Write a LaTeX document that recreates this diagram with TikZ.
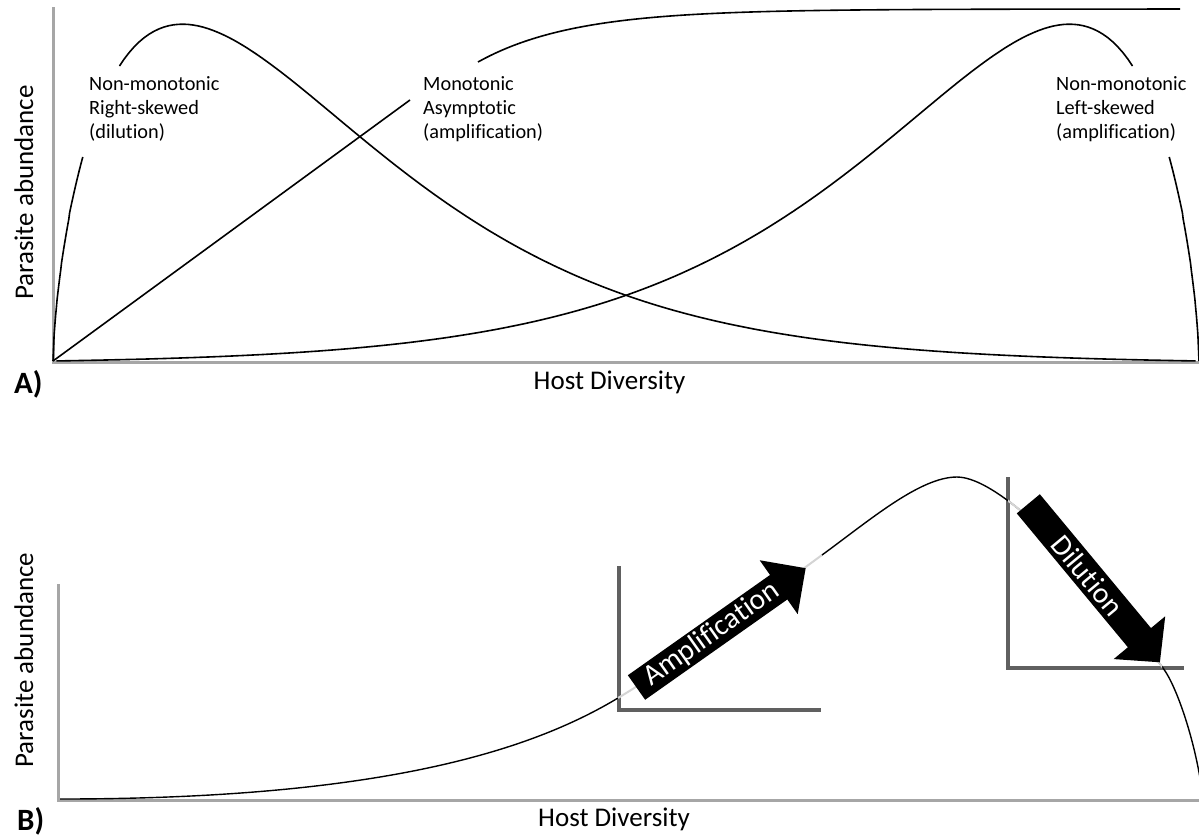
\documentclass[tikz,border=0pt]{standalone}
\usepackage{fontspec}
\setmainfont{Carlito}[Ligatures=NoCommon]
\definecolor{axgray}{HTML}{A6A6A6}
\definecolor{insetgray}{HTML}{606060}
\definecolor{ghostgray}{HTML}{D4D4D4}
\begin{document}
\begin{tikzpicture}[x=1pt,y=-1pt,
  axis/.style={draw=axgray, line width=3pt},
  inset/.style={draw=insetgray, line width=4pt},
  curve/.style={draw=black, line width=1.6pt, line join=round},
  curveb/.style={draw=black, line width=1.4pt, line join=round},
  ghost/.style={draw=ghostgray, line width=2pt},
  lab/.style={font=\fontsize{20.3}{24}\selectfont, align=left, inner sep=0pt},
  axlab/.style={font=\fontsize{27}{32}\selectfont, inner sep=0pt},
  panel/.style={font=\fontsize{31}{36}\selectfont\bfseries, inner sep=0pt},
  arrtxt/.style={font=\fontsize{29.5}{34}\selectfont, text=white, inner sep=0pt},
  declare function={rsk(\t)=exp(0.66*(ln(\t/0.113)-(exp(1.15*ln(\t/0.113))-1)/1.15))-0.0065*\t;}
]
\useasboundingbox (0,0) rectangle (1199,839);

% ---------------- Panel A ----------------
\draw[axis] (53,7) -- (53,362) -- (1199,362);
\coordinate (oA) at (53,361);
\coordinate (eA) at (1199,361);

% right-skewed (dilution)
\draw[curve] (oA) -- plot[domain=0.001:0.026, samples=40] ({53+1146*\x},{361-337*rsk(\x)});
\draw[curve] plot[domain=0.058:1, samples=220] ({53+1146*\x},{361-337*rsk(\x)});
% left-skewed (amplification)
\draw[curve] plot[domain=0.058:1, samples=220] ({1199-1146*\x},{361-337*rsk(\x)});
\draw[curve] plot[domain=0.026:0.001, samples=40] ({1199-1146*\x},{361-337*rsk(\x)}) -- (eA);
% monotonic asymptotic
\coordinate (mA) at (410,100);
\draw[curve] (oA) -- (mA);
\draw[curve] plot[domain=478:1180, samples=120] (\x,{9+53*exp(-(\x-478)/95)});

\node[lab, anchor=north west] (lrs) at (89,76) {Non-monotonic\\Right-skewed\\(dilution)};
\node[lab, anchor=north west] (lma) at (423,76) {Monotonic\\Asymptotic\\(amplification)};
\node[lab, anchor=north west] (lls) at (1056,76) {Non-monotonic\\Left-skewed\\(amplification)};

\node[axlab, rotate=90, anchor=base] (yA) at (33,192.5) {Parasite abundance};
\node[axlab, anchor=base] (xA) at (609.5,389) {Host Diversity};
\node[panel, anchor=base west] (pA) at (14,393) {A)};

% ---------------- Panel B ----------------
\draw[axis] (58,584) -- (58,800) -- (1199,800);
\draw[inset] (618.5,566) -- (618.5,710) -- (821,710);
\draw[inset] (1008,477) -- (1008,668) -- (1184,668);

\coordinate (b0) at (60,799);
\coordinate (b1) at (618,698);
\coordinate (b2) at (822,555);
\coordinate (bp) at (957,477);
\coordinate (b3) at (1163,668);
\coordinate (b4) at (1203,800);

\draw[curveb] (b0) .. controls (380,799) and (530,751) .. (b1);
\draw[ghost] (b1) .. controls (678,662) and (762,599) .. (b2);
\draw[curveb] (b2) .. controls (870,520) and (920,477) .. (bp);
\draw[curveb] (bp) .. controls (1000,477) and (1090,570) .. (b3);
\begin{scope}
\clip (1008,400) rectangle (1162,760);
\draw[ghost] (bp) .. controls (1000,477) and (1090,570) .. (b3);
\end{scope}
\draw[curveb] (b3) .. controls (1178,688) and (1198,750) .. (b4);

% Amplification arrow
\begin{scope}[shift={(636.5,687.5)}, rotate=35.2]
\fill[black] (0,-15) -- (174,-15) -- (174,-33) -- (207,0) -- (174,33) -- (174,15) -- (0,15) -- cycle;
\node[arrtxt, transform shape] (amp) at (92,0) {Amplification};
\end{scope}
% Dilution arrow
\begin{scope}[shift={(1028.3,503.8)}, rotate=-50.3]
\fill[black] (0,-15) -- (174,-15) -- (174,-33.5) -- (206,0) -- (174,33.5) -- (174,15) -- (0,15) -- cycle;
\node[arrtxt, transform shape] (dil) at (93,0) {Dilution};
\end{scope}

\node[axlab, rotate=90, anchor=base] (yB) at (33,660) {Parasite abundance};
\node[axlab, anchor=base] (xB) at (614,826) {Host Diversity};
\node[panel, anchor=base west] (pB) at (17,830) {B)};
\end{tikzpicture}
\end{document}
